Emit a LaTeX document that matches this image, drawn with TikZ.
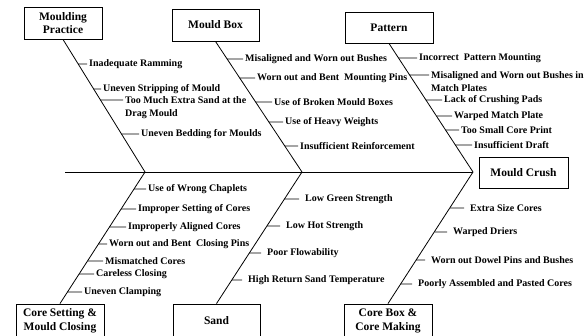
\documentclass[tikz,border=0pt]{standalone}
\usepackage{fontspec}
\setmainfont{Liberation Serif}
\begin{document}
\begin{tikzpicture}[ x=1pt, y=-1pt,
	box/.style={ draw, line width=0.9pt, inner sep=2pt, align=center, font=\fontsize{11.5}{13.5}\selectfont\bfseries },
	cause/.style={ anchor=west, inner sep=1pt, align=left, font=\fontsize{10}{13}\selectfont\bfseries },
	bone/.style={ line width=0.8pt },
	tick/.style={ line width=0.7pt, shorten >=1pt },
	gaptick/.style={ line width=0.7pt, shorten >=5pt } ]
	  \useasboundingbox (0,0) rectangle (588,335);
	  \clip (0,0) rectangle (588,335);

	  \node [ box, minimum width=78pt, minimum height=32pt ] (practice) at (63,23) {Moulding\\Practice};
	  \node [ box, minimum width=87pt, minimum height=32pt ] (mouldbox) at (215.5,25) {Mould Box};
	  \node [ box, minimum width=88pt, minimum height=31pt ] (pattern) at (389,27.5) {Pattern};
	  \node [ box, minimum width=89pt, minimum height=31pt ] (crush) at (523.5,172.5) {Mould Crush};
	  \node [ box, minimum width=88pt, minimum height=34pt ] (closing) at (60,321) {Core Setting \&\\Mould Closing};
	  \node [ box, minimum width=87pt, minimum height=34pt ] (sand) at (216.5,321) {Sand};
	  \node [ box, minimum width=88pt, minimum height=34pt ] (coremaking) at (388,321) {Core Box \&\\Core Making};

	  \coordinate (tail) at (65,172);
	  \coordinate (j1) at (145,172);
	  \coordinate (j2) at (302,172);
	  \coordinate (head) at (473,172);

	  \draw [ bone ] (tail) -- (head);
	  \draw [ bone ] (practice.south) -- (j1);
	  \draw [ bone ] (mouldbox.south) -- (j2);
	  \draw [ bone ] (pattern.south) -- (head);
	  \draw [ bone ] (closing.north) -- (j1);
	  \draw [ bone ] (sand.north) -- (j2);
	  \draw [ bone ] (coremaking.north) -- (head);

	  \node [ cause ] (p1) at (88,64) {Inadequate Ramming};
	  \node [ cause ] (p2) at (102,89) {Uneven Stripping of Mould};
	  \node [ cause, anchor=north west ] (p3) at (124,95) {Too Much Extra Sand at the\\Drag Mould};
	  \node [ cause ] (p4) at (140,134) {Uneven Bedding for Moulds};

	  \node [ cause ] (b1) at (244,59) {Misaligned and Worn out Bushes};
	  \node [ cause ] (b2) at (256,78) {Worn out and Bent\ \ Mounting Pins};
	  \node [ cause ] (b3) at (273,102) {Use of Broken Mould Boxes};
	  \node [ cause ] (b4) at (284,122) {Use of Heavy Weights};
	  \node [ cause ] (b5) at (299,146) {Insufficient Reinforcement};

	  \node [ cause ] (t1) at (418,58) {Incorrect\ \ Pattern Mounting};
	  \node [ cause, anchor=north west ] (t2) at (430,70) {Misaligned and Worn out Bushes in\\Match Plates};
	  \node [ cause ] (t3) at (443,100) {Lack of Crushing Pads};
	  \node [ cause ] (t4) at (453,116) {Warped Match Plate};
	  \node [ cause ] (t5) at (460,130) {Too Small Core Print};
	  \node [ cause ] (t6) at (473,145) {Insufficient Draft};

	  \node [ cause ] (c1) at (147,189) {Use of Wrong Chaplets};
	  \node [ cause ] (c2) at (137,209) {Improper Setting of Cores};
	  \node [ cause ] (c3) at (127,227) {Improperly Aligned Cores};
	  \node [ cause ] (c4) at (108,244) {Worn out and Bent\ \ Closing Pins};
	  \node [ cause ] (c5) at (104,261) {Mismatched Cores};
	  \node [ cause ] (c6) at (95,274) {Careless Closing};
	  \node [ cause ] (c7) at (83,292) {Uneven Clamping};

	  \node [ cause ] (s1) at (304,199) {Low Green Strength};
	  \node [ cause ] (s2) at (285,226) {Low Hot Strength};
	  \node [ cause ] (s3) at (266,253) {Poor Flowability};
	  \node [ cause ] (s4) at (247,280) {High Return Sand Temperature};

	  \node [ cause ] (k1) at (469,208) {Extra Size Cores};
	  \node [ cause ] (k2) at (452,232) {Warped Driers};
	  \node [ cause ] (k3) at (430,260) {Worn out Dowel Pins and Bushes};
	  \node [ cause ] (k4) at (417,284) {Poorly Assembled and Pasted Cores};

	  \draw [ tick ] (intersection of practice.south--j1 and p1.west--p1.east) -- (p1.west);
	  \draw [ tick ] (intersection of practice.south--j1 and p2.west--p2.east) -- (p2.west);
	  \draw [ tick ] (intersection cs: first line={(practice.south)--(j1)}, second line={([yshift=-5pt]p3.north west)--([yshift=-5pt]p3.north east)}) -- ([yshift=-5pt]p3.north west);
	  \draw [ tick ] (intersection of practice.south--j1 and p4.west--p4.east) -- (p4.west);

	  \draw [ tick ] (intersection of mouldbox.south--j2 and b1.west--b1.east) -- (b1.west);
	  \draw [ tick ] (intersection of mouldbox.south--j2 and b2.west--b2.east) -- (b2.west);
	  \draw [ tick ] (intersection of mouldbox.south--j2 and b3.west--b3.east) -- (b3.west);
	  \draw [ tick ] (intersection of mouldbox.south--j2 and b4.west--b4.east) -- (b4.west);
	  \draw [ tick ] (intersection of mouldbox.south--j2 and b5.west--b5.east) -- (b5.west);

	  \draw [ tick ] (intersection of pattern.south--head and t1.west--t1.east) -- (t1.west);
	  \draw [ tick ] (intersection cs: first line={(pattern.south)--(head)}, second line={([yshift=-5pt]t2.north west)--([yshift=-5pt]t2.north east)}) -- ([yshift=-5pt]t2.north west);
	  \draw [ tick ] (intersection of pattern.south--head and t3.west--t3.east) -- (t3.west);
	  \draw [ tick ] (intersection of pattern.south--head and t4.west--t4.east) -- (t4.west);
	  \draw [ tick ] (intersection of pattern.south--head and t5.west--t5.east) -- (t5.west);
	  \draw [ tick ] (intersection of pattern.south--head and t6.west--t6.east) -- (t6.west);

	  \draw [ tick ] (intersection of closing.north--j1 and c1.west--c1.east) -- (c1.west);
	  \draw [ tick ] (intersection of closing.north--j1 and c2.west--c2.east) -- (c2.west);
	  \draw [ tick ] (intersection of closing.north--j1 and c3.west--c3.east) -- (c3.west);
	  \draw [ tick ] (intersection of closing.north--j1 and c4.west--c4.east) -- (c4.west);
	  \draw [ tick ] (intersection of closing.north--j1 and c5.west--c5.east) -- (c5.west);
	  \draw [ tick ] (intersection of closing.north--j1 and c6.west--c6.east) -- (c6.west);
	  \draw [ tick ] (intersection of closing.north--j1 and c7.west--c7.east) -- (c7.west);

	  \draw [ gaptick ] (intersection of sand.north--j2 and s1.west--s1.east) -- (s1.west);
	  \draw [ gaptick ] (intersection of sand.north--j2 and s2.west--s2.east) -- (s2.west);
	  \draw [ gaptick ] (intersection of sand.north--j2 and s3.west--s3.east) -- (s3.west);
	  \draw [ gaptick ] (intersection of sand.north--j2 and s4.west--s4.east) -- (s4.west);

	  \draw [ gaptick ] (intersection of coremaking.north--head and k1.west--k1.east) -- (k1.west);
	  \draw [ gaptick ] (intersection of coremaking.north--head and k2.west--k2.east) -- (k2.west);
	  \draw [ gaptick ] (intersection of coremaking.north--head and k3.west--k3.east) -- (k3.west);
	  \draw [ gaptick ] (intersection of coremaking.north--head and k4.west--k4.east) -- (k4.west);

	\end{tikzpicture}
\end{document}
